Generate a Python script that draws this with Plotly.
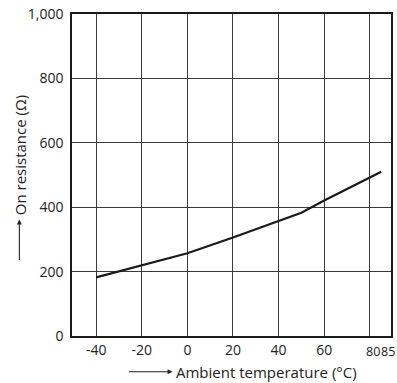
import plotly.graph_objects as go

temp_c = [-40, -20, 0, 20, 40, 50, 60, 70, 85]
on_resistance = [182, 219, 257, 306, 357, 383, 421, 457, 510]

x_grid = [-40, -20, 0, 20, 40, 60, 80]
x_labels = ["-40", "-20", "0", "20", "40", "60", ""]
y_grid = [0, 200, 400, 600, 800, 1000]
y_labels = ["0", "200", "400", "600", "800", "1,000"]

FONT = "Open Sans"
TXT = "#222222"

fig = go.Figure()
fig.add_trace(go.Scatter(x=temp_c, y=on_resistance, mode="lines",
                         line=dict(color="#1a1a1a", width=2.2), showlegend=False))

fig.update_layout(
    width=397, height=383,
    margin=dict(l=72, r=4, t=14, b=47),
    paper_bgcolor="white", plot_bgcolor="white",
    font=dict(family=FONT, size=14, color=TXT),
    xaxis=dict(range=[-50.6, 89.3], tickvals=x_grid, ticktext=x_labels,
               showgrid=True, gridcolor="#3a3a3a", gridwidth=1,
               showline=True, linecolor="#1a1a1a", linewidth=1.5, mirror=True,
               ticks="", zeroline=False, fixedrange=True),
    yaxis=dict(range=[0, 1000], tickvals=y_grid, ticktext=y_labels,
               showgrid=True, gridcolor="#3a3a3a", gridwidth=1,
               showline=True, linecolor="#1a1a1a", linewidth=1.5, mirror=True,
               ticks="", zeroline=False, ticklabelstandoff=4, fixedrange=True),
    annotations=[
        dict(x=80, y=0, xref="x", yref="y", text="80", showarrow=False,
             font=dict(size=12.5),
             xanchor="center", yanchor="top", xshift=3, yshift=-5),
        dict(x=85, y=0, xref="x", yref="y", text="85", showarrow=False,
             font=dict(size=12.5),
             xanchor="center", yanchor="top", xshift=6.5, yshift=-5),
        # x-axis title
        dict(x=0.321, y=-0.111, xref="paper", yref="paper", text="Ambient temperature (°C)",
             showarrow=False, xanchor="left", yanchor="middle", font=dict(size=15)),
        dict(x=0.315, y=-0.111, xref="paper", yref="paper", text="",
             showarrow=True, ax=-45, ay=0, arrowhead=2, arrowsize=0.9,
             arrowwidth=1.1, arrowcolor=TXT),
        # y-axis title
        dict(x=-0.165, y=0.37, xref="paper", yref="paper", text="On resistance (Ω)",
             showarrow=False, textangle=-90, xanchor="center", yanchor="bottom",
             font=dict(size=15)),
        dict(x=-0.165, y=0.362, xref="paper", yref="paper", text="",
             showarrow=True, ax=0, ay=42, arrowhead=2, arrowsize=0.9,
             arrowwidth=1.1, arrowcolor=TXT),
    ],
)

fig.write_html("out.html")
